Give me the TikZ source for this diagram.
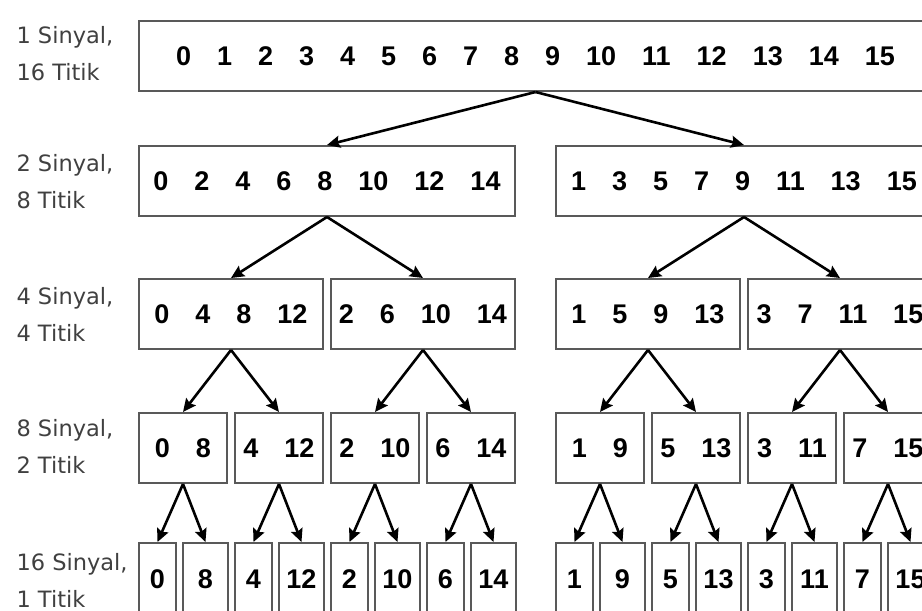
\documentclass[tikz,border=0pt]{standalone}
\usepackage{fontspec}
\setmainfont{Liberation Sans}
\newfontfamily\labelfont{DejaVu Sans}
\usetikzlibrary{arrows.meta}

\newcommand{\numfont}{\fontsize{27}{27}\selectfont\bfseries\spaceskip=26pt\relax}

\tikzset{
  sigbox/.style={draw=black!65, line width=2pt, minimum height=70pt,
                 inner sep=0pt, font=\numfont, anchor=north west},
  split/.style={-{Stealth[length=13pt,width=12pt,inset=2pt]}, line width=2.6pt},
  rowlabel/.style={anchor=west, align=left, text=black!75,
                   font={\labelfont\fontsize{22.5}{37}\selectfont}}
}

\begin{document}
\begin{tikzpicture}[x=1pt, y=-1pt]
  % Frame
  \useasboundingbox (0,0) rectangle (922,611);
  \clip (0,0) rectangle (922,611);
  \fill[white] (0,0) rectangle (922,611);
  % Row labels
  \node[rowlabel] (l1) at (13,54)  {1 Sinyal,\\16 Titik};
  \node[rowlabel] (l2) at (13,182) {2 Sinyal,\\8 Titik};
  \node[rowlabel] (l3) at (13,314) {4 Sinyal,\\4 Titik};
  \node[rowlabel] (l4) at (13,446) {8 Sinyal,\\2 Titik};
  \node[rowlabel] (l5) at (13,580) {16 Sinyal,\\1 Titik};
  % Row 1: one signal
  \node[sigbox, minimum width=793pt] (r1) at (138,20)
        {0 1 2 3 4 5 6 7 8 9 10 11 12 13 14 15};
  % Row 2: even / odd
  \node[sigbox, minimum width=376pt] (r2-1) at (138,145) {0 2 4 6 8 10 12 14};
  \node[sigbox, minimum width=376pt] (r2-2) at (555,145) {1 3 5 7 9 11 13 15};
  % Row 3
  \foreach \x/\t [count=\i] in {138/{0 4 8 12}, 330/{2 6 10 14},
                                555/{1 5 9 13}, 747/{3 7 11 15}}
    \node[sigbox, minimum width=184pt] (r3-\i) at (\x,278) {\t};
  % Row 4
  \foreach \x/\t [count=\i] in {138/{0 8}, 234/{4 12}, 330/{2 10}, 426/{6 14},
                                555/{1 9}, 651/{5 13}, 747/{3 11}, 843/{7 15}}
    \node[sigbox, minimum width=88pt] (r4-\i) at (\x,412) {\t};
  % Row 5: single points
  \foreach \x/\a/\b [count=\i] in {138/0/8, 234/4/12, 330/2/10, 426/6/14,
                                   555/1/9, 651/5/13, 747/3/11, 843/7/15} {
    \node[sigbox, minimum width=37pt, minimum height=72pt] (r5-\i-a) at (\x,542) {\a};
    \node[sigbox, minimum width=45pt, minimum height=72pt] (r5-\i-b) at (\x+44,542) {\b};
  }
  % Arrows
  \draw[split] (r1.south) -- (r2-1.north);
  \draw[split] (r1.south) -- (r2-2.north);
  \foreach \i/\j/\k in {1/1/2, 2/3/4} {
    \draw[split] (r2-\i.south) -- (r3-\j.north);
    \draw[split] (r2-\i.south) -- (r3-\k.north);
  }
  \foreach \i/\j/\k in {1/1/2, 2/3/4, 3/5/6, 4/7/8} {
    \draw[split] (r3-\i.south) -- (r4-\j.north);
    \draw[split] (r3-\i.south) -- (r4-\k.north);
  }
  \foreach \i in {1,...,8} {
    \draw[split] (r4-\i.south) -- (r5-\i-a.north);
    \draw[split] (r4-\i.south) -- (r5-\i-b.north);
  }
\end{tikzpicture}
\end{document}
